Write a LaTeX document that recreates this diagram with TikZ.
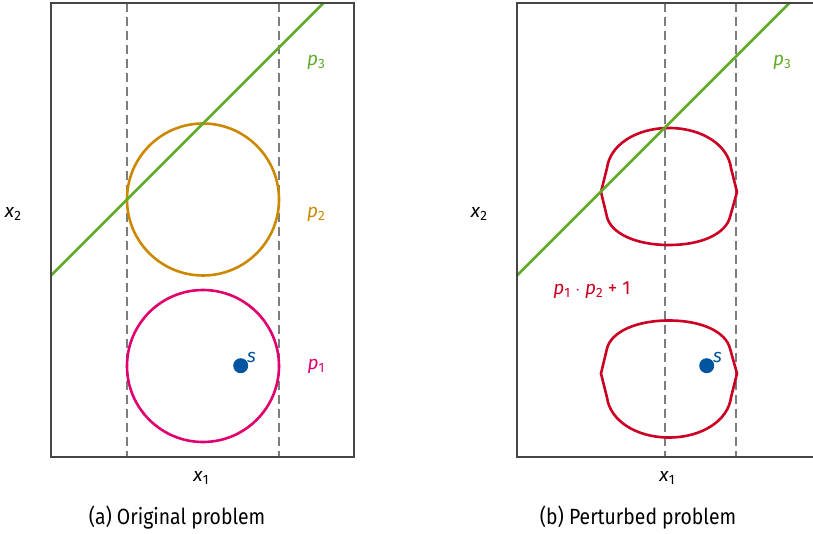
\documentclass[tikz,border=0pt]{standalone}
\usepackage{fontspec}
\setmainfont{Fira Sans}
\newfontfamily\capfont[FakeStretch=0.88]{Fira Sans}
\definecolor{cgreen}{RGB}{96,172,40}
\definecolor{cgold}{RGB}{204,136,0}
\definecolor{cmag}{RGB}{224,0,110}
\definecolor{cred}{RGB}{204,0,34}
\definecolor{cblue}{RGB}{0,85,160}
\definecolor{cframe}{RGB}{70,70,70}
\definecolor{cdash}{RGB}{125,125,125}
\newcommand\pv[2]{\textit{#1}\raisebox{-0.35ex}{\fontsize{13.5}{15}\selectfont #2}}
\tikzset{
  frame/.style={draw=cframe, line width=1.4pt},
  guide/.style={draw=cdash, line width=2pt, dash pattern=on 9pt off 5pt},
  curve/.style={line width=2.6pt},
  lab/.style={font=\fontsize{19}{22}\selectfont, inner sep=0pt},
  captext/.style={font=\capfont\fontsize{22}{26}\selectfont, inner sep=0pt},
  blob/.pic={\draw[cred, curve] (-68,0) -- (-62,-24) .. controls (-59,-47) and (-33,-64) .. (0,-64)
      .. controls (33,-64) and (59,-47) .. (62,-24) -- (68,0) -- (61,25)
      .. controls (57,41) and (34,53) .. (0,53) .. controls (-34,53) and (-58,41) .. (-62,25) -- cycle;}
}
\begin{document}
\begin{tikzpicture}[x=1pt, y=-1pt]
\useasboundingbox (0,0) rectangle (813,534);
\clip (0,0) rectangle (813,534);
% ---------- left panel ----------
\draw[guide] (127.3,3) -- (127.3,457);
\draw[guide] (278.7,3) -- (278.7,457);
\draw[cgold, curve] (203,199.5) circle[radius=76pt];
\draw[cmag, curve] (203,366) circle[radius=76pt];
\draw[cgreen, curve] (51,275.5) -- (323.5,3);
\fill[cblue] (240.7,365.7) circle[radius=7.5pt];
\node[lab, text=cblue] (sa) at (251.5,357) {\textit{s}};
\draw[frame] (51,3) rectangle (354,457);
\node[lab, text=cgreen] (p3a) at (316,62) {\pv{p}{3}};
\node[lab, text=cgold] (p2a) at (316,214) {\pv{p}{2}};
\node[lab, text=cmag] (p1a) at (316,366) {\pv{p}{1}};
\node[lab] (x2a) at (13,214) {\pv{x}{2}};
\node[lab] (x1a) at (201,478) {\pv{x}{1}};
\node[captext] (capa) at (177,518) {(a) Original problem};
% ---------- right panel ----------
\draw[guide] (664.7,3) -- (664.7,457);
\draw[guide] (736,3) -- (736,457);
\pic at (669,192) {blob};
\pic[yscale=-1] at (669,373.5) {blob};
\draw[cgreen, curve] (517,275.5) -- (789.5,3);
\fill[cblue] (706.7,365.7) circle[radius=7.5pt];
\node[lab, text=cblue] (sb) at (717.5,357) {\textit{s}};
\draw[frame] (517,3) rectangle (820,457);
\node[lab, text=cgreen] (p3b) at (782,62) {\pv{p}{3}};
\node[lab, text=cred] (prod) at (592,290) {\pv{p}{1}\kern5pt$\cdot$\kern5pt\pv{p}{2}\kern5pt+\kern5pt1};
\node[lab] (x2b) at (479,214) {\pv{x}{2}};
\node[lab] (x1b) at (667,478) {\pv{x}{1}};
\node[captext] (capb) at (638,518) {(b) Perturbed problem};
\end{tikzpicture}
\end{document}
